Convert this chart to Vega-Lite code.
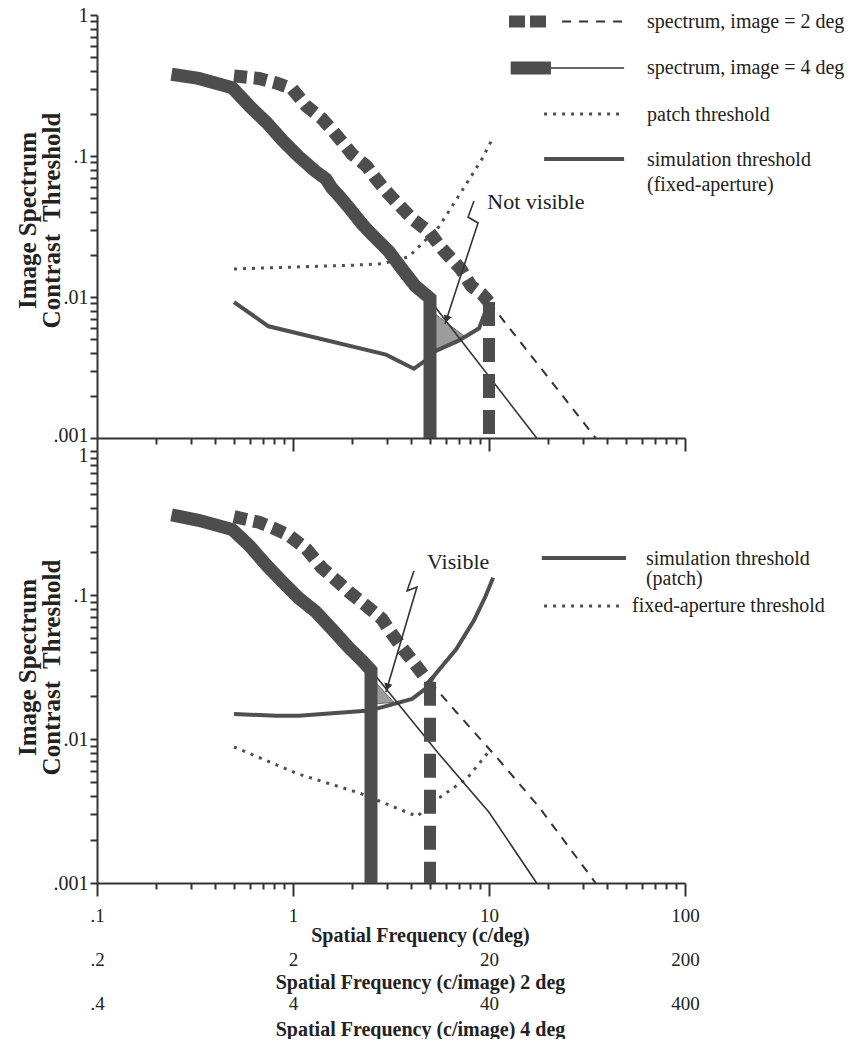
{
"$schema": "https://vega.github.io/schema/vega-lite/v6.json",
"background": "white",
"padding": {"left": 15, "top": -3, "right": 2, "bottom": 0},
"autosize": {"type": "pad"},
"config": {"view": {"stroke": null}, "axis": {"grid": false}, "font": "Liberation Serif"},
"datasets": {"rows": [
{"p":"a","s":"T4","g":"c","i":1,"x":0.24,"y":0.38},
{"p":"a","s":"T4","g":"c","i":2,"x":0.33,"y":0.355},
{"p":"a","s":"T4","g":"c","i":3,"x":0.49,"y":0.305},
{"p":"a","s":"T4","g":"c","i":4,"x":0.6,"y":0.226},
{"p":"a","s":"T4","g":"c","i":5,"x":0.735,"y":0.172},
{"p":"a","s":"T4","g":"c","i":6,"x":0.88,"y":0.13},
{"p":"a","s":"T4","g":"c","i":7,"x":1.07,"y":0.099},
{"p":"a","s":"T4","g":"c","i":8,"x":1.3,"y":0.078},
{"p":"a","s":"T4","g":"c","i":9,"x":1.47,"y":0.069},
{"p":"a","s":"T4","g":"c","i":10,"x":1.58,"y":0.059},
{"p":"a","s":"T4","g":"c","i":11,"x":1.72,"y":0.052},
{"p":"a","s":"T4","g":"c","i":12,"x":1.93,"y":0.043},
{"p":"a","s":"T4","g":"c","i":13,"x":2.25,"y":0.033},
{"p":"a","s":"T4","g":"c","i":14,"x":2.45,"y":0.029},
{"p":"a","s":"T4","g":"c","i":15,"x":2.65,"y":0.026},
{"p":"a","s":"T4","g":"c","i":16,"x":3.09,"y":0.021},
{"p":"a","s":"T4","g":"c","i":17,"x":3.6,"y":0.0158},
{"p":"a","s":"T4","g":"c","i":18,"x":4.2,"y":0.012},
{"p":"a","s":"T4","g":"c","i":19,"x":5,"y":0.0098},
{"p":"a","s":"T4","g":"c","i":20,"x":5,"y":0.001},
{"p":"a","s":"T4","g":"L","i":1,"x":12.9,"y":0.421},
{"p":"a","s":"T4","g":"L","i":2,"x":20.7,"y":0.421},
{"p":"a","s":"t4","g":"c","i":1,"x":5,"y":0.0095},
{"p":"a","s":"t4","g":"c","i":2,"x":17.5,"y":0.001},
{"p":"a","s":"t4","g":"L","i":1,"x":20.7,"y":0.421},
{"p":"a","s":"t4","g":"L","i":2,"x":48.9,"y":0.421},
{"p":"a","s":"T2","g":"c","i":1,"x":0.5,"y":0.37},
{"p":"a","s":"T2","g":"c","i":2,"x":0.67,"y":0.355},
{"p":"a","s":"T2","g":"c","i":3,"x":0.82,"y":0.33},
{"p":"a","s":"T2","g":"c","i":4,"x":0.99,"y":0.3},
{"p":"a","s":"T2","g":"c","i":5,"x":1.17,"y":0.226},
{"p":"a","s":"T2","g":"c","i":6,"x":1.41,"y":0.183},
{"p":"a","s":"T2","g":"c","i":7,"x":1.57,"y":0.155},
{"p":"a","s":"T2","g":"c","i":8,"x":1.78,"y":0.126},
{"p":"a","s":"T2","g":"c","i":9,"x":2.0,"y":0.103},
{"p":"a","s":"T2","g":"c","i":10,"x":2.37,"y":0.085},
{"p":"a","s":"T2","g":"c","i":11,"x":2.65,"y":0.069},
{"p":"a","s":"T2","g":"c","i":12,"x":3.0,"y":0.056},
{"p":"a","s":"T2","g":"c","i":13,"x":3.37,"y":0.047},
{"p":"a","s":"T2","g":"c","i":14,"x":4.05,"y":0.036},
{"p":"a","s":"T2","g":"c","i":15,"x":4.94,"y":0.029},
{"p":"a","s":"T2","g":"c","i":16,"x":5.76,"y":0.022},
{"p":"a","s":"T2","g":"c","i":17,"x":7.2,"y":0.0157},
{"p":"a","s":"T2","g":"c","i":18,"x":8.1,"y":0.012},
{"p":"a","s":"T2","g":"c","i":19,"x":9.2,"y":0.0105},
{"p":"a","s":"T2","g":"c","i":20,"x":10,"y":0.0092},
{"p":"a","s":"LT2","g":"L","i":1,"x":12.65,"y":0.899},
{"p":"a","s":"LT2","g":"L","i":2,"x":19.8,"y":0.899},
{"p":"a","s":"B2","g":"c","i":1,"x":10,"y":0.0092},
{"p":"a","s":"B2","g":"c","i":2,"x":10,"y":0.001},
{"p":"a","s":"t2","g":"c","i":1,"x":10,"y":0.0092},
{"p":"a","s":"t2","g":"c","i":2,"x":20,"y":0.0027},
{"p":"a","s":"t2","g":"c","i":3,"x":35,"y":0.001},
{"p":"a","s":"t2","g":"L","i":1,"x":23.6,"y":0.899},
{"p":"a","s":"t2","g":"L","i":2,"x":47.7,"y":0.899},
{"p":"a","s":"sol","g":"c","i":1,"x":0.5,"y":0.0092},
{"p":"a","s":"sol","g":"c","i":2,"x":0.75,"y":0.0062},
{"p":"a","s":"sol","g":"c","i":3,"x":2.98,"y":0.0039},
{"p":"a","s":"sol","g":"c","i":4,"x":4.14,"y":0.0031},
{"p":"a","s":"sol","g":"c","i":5,"x":5.1,"y":0.0038},
{"p":"a","s":"sol","g":"c","i":6,"x":5.25,"y":0.0041},
{"p":"a","s":"sol","g":"c","i":7,"x":7.0,"y":0.0049},
{"p":"a","s":"sol","g":"c","i":8,"x":8.9,"y":0.006},
{"p":"a","s":"sol","g":"c","i":9,"x":10,"y":0.0092},
{"p":"a","s":"sol","g":"L","i":1,"x":19.1,"y":0.0952},
{"p":"a","s":"sol","g":"L","i":2,"x":48.9,"y":0.0952},
{"p":"a","s":"dot","g":"c","i":1,"x":0.5,"y":0.0158},
{"p":"a","s":"dot","g":"c","i":2,"x":1.0,"y":0.0163},
{"p":"a","s":"dot","g":"c","i":3,"x":2.0,"y":0.0168},
{"p":"a","s":"dot","g":"c","i":4,"x":2.85,"y":0.0172},
{"p":"a","s":"dot","g":"c","i":5,"x":3.9,"y":0.0193},
{"p":"a","s":"dot","g":"c","i":6,"x":5.55,"y":0.0315},
{"p":"a","s":"dot","g":"c","i":7,"x":7.0,"y":0.052},
{"p":"a","s":"dot","g":"c","i":8,"x":9.2,"y":0.095},
{"p":"a","s":"dot","g":"c","i":9,"x":10.4,"y":0.132},
{"p":"a","s":"dot","g":"L","i":1,"x":19.1,"y":0.1986},
{"p":"a","s":"dot","g":"L","i":2,"x":47.7,"y":0.1986},
{"p":"a","s":"sh","g":"c","i":1,"x":5.3,"y":0.0076,"y2":0.0041},
{"p":"a","s":"sh","g":"c","i":2,"x":7.45,"y":0.0053,"y2":0.0053},
{"p":"a","s":"zz","g":"c","i":1,"x":8.38,"y":0.048},
{"p":"a","s":"zz","g":"c","i":2,"x":7.82,"y":0.0369},
{"p":"a","s":"zz","g":"c","i":3,"x":8.79,"y":0.0335},
{"p":"a","s":"zz","g":"c","i":4,"x":5.96,"y":0.00644},
{"p":"a","s":"head","g":"c","i":1,"x":6.08,"y":0.00696},
{"p":"a","s":"at","g":"c","i":1,"x":9.8,"y":0.047,"t":"Not visible"},
{"p":"a","s":"lt","g":"c","i":1,"x":64,"y":0.899,"t":"spectrum, image = 2 deg"},
{"p":"a","s":"lt","g":"c","i":2,"x":64,"y":0.421,"t":"spectrum, image = 4 deg"},
{"p":"a","s":"lt","g":"c","i":3,"x":64,"y":0.195,"t":"patch threshold"},
{"p":"a","s":"lt","g":"c","i":4,"x":64,"y":0.094,"t":"simulation threshold"},
{"p":"a","s":"lt","g":"c","i":5,"x":64,"y":0.0623,"t":"(fixed-aperture)"},
{"p":"b","s":"T4","g":"c","i":1,"x":0.24,"y":0.36},
{"p":"b","s":"T4","g":"c","i":2,"x":0.33,"y":0.33},
{"p":"b","s":"T4","g":"c","i":3,"x":0.49,"y":0.285},
{"p":"b","s":"T4","g":"c","i":4,"x":0.6,"y":0.22},
{"p":"b","s":"T4","g":"c","i":5,"x":0.735,"y":0.16},
{"p":"b","s":"T4","g":"c","i":6,"x":0.88,"y":0.124},
{"p":"b","s":"T4","g":"c","i":7,"x":1.07,"y":0.095},
{"p":"b","s":"T4","g":"c","i":8,"x":1.3,"y":0.077},
{"p":"b","s":"T4","g":"c","i":9,"x":1.58,"y":0.058},
{"p":"b","s":"T4","g":"c","i":10,"x":1.93,"y":0.043},
{"p":"b","s":"T4","g":"c","i":11,"x":2.25,"y":0.035},
{"p":"b","s":"T4","g":"c","i":12,"x":2.5,"y":0.03},
{"p":"b","s":"T4","g":"c","i":13,"x":2.5,"y":0.001},
{"p":"b","s":"t4","g":"c","i":1,"x":2.5,"y":0.03},
{"p":"b","s":"t4","g":"c","i":2,"x":5.5,"y":0.008},
{"p":"b","s":"t4","g":"c","i":3,"x":10,"y":0.0031},
{"p":"b","s":"t4","g":"c","i":4,"x":17.5,"y":0.001},
{"p":"b","s":"T2","g":"c","i":1,"x":0.5,"y":0.35},
{"p":"b","s":"T2","g":"c","i":2,"x":0.67,"y":0.32},
{"p":"b","s":"T2","g":"c","i":3,"x":0.8,"y":0.29},
{"p":"b","s":"T2","g":"c","i":4,"x":0.95,"y":0.26},
{"p":"b","s":"T2","g":"c","i":5,"x":1.17,"y":0.209},
{"p":"b","s":"T2","g":"c","i":6,"x":1.4,"y":0.155},
{"p":"b","s":"T2","g":"c","i":7,"x":1.7,"y":0.123},
{"p":"b","s":"T2","g":"c","i":8,"x":1.93,"y":0.105},
{"p":"b","s":"T2","g":"c","i":9,"x":2.37,"y":0.084},
{"p":"b","s":"T2","g":"c","i":10,"x":2.85,"y":0.068},
{"p":"b","s":"T2","g":"c","i":11,"x":3.1,"y":0.057},
{"p":"b","s":"T2","g":"c","i":12,"x":3.6,"y":0.043},
{"p":"b","s":"T2","g":"c","i":13,"x":4.2,"y":0.033},
{"p":"b","s":"T2","g":"c","i":14,"x":4.7,"y":0.027},
{"p":"b","s":"T2","g":"c","i":15,"x":5,"y":0.025},
{"p":"b","s":"B2","g":"c","i":1,"x":5,"y":0.025},
{"p":"b","s":"B2","g":"c","i":2,"x":5,"y":0.001},
{"p":"b","s":"t2","g":"c","i":1,"x":5,"y":0.025},
{"p":"b","s":"t2","g":"c","i":2,"x":6.8,"y":0.0154},
{"p":"b","s":"t2","g":"c","i":3,"x":11.2,"y":0.0072},
{"p":"b","s":"t2","g":"c","i":4,"x":17.9,"y":0.0034},
{"p":"b","s":"t2","g":"c","i":5,"x":35,"y":0.001},
{"p":"b","s":"sol","g":"c","i":1,"x":0.5,"y":0.0149},
{"p":"b","s":"sol","g":"c","i":2,"x":0.82,"y":0.0145},
{"p":"b","s":"sol","g":"c","i":3,"x":1.07,"y":0.0145},
{"p":"b","s":"sol","g":"c","i":4,"x":2.36,"y":0.0157},
{"p":"b","s":"sol","g":"c","i":5,"x":2.65,"y":0.0162},
{"p":"b","s":"sol","g":"c","i":6,"x":4.05,"y":0.019},
{"p":"b","s":"sol","g":"c","i":7,"x":4.77,"y":0.0225},
{"p":"b","s":"sol","g":"c","i":8,"x":5.3,"y":0.028},
{"p":"b","s":"sol","g":"c","i":9,"x":6.8,"y":0.042},
{"p":"b","s":"sol","g":"c","i":10,"x":8.4,"y":0.067},
{"p":"b","s":"sol","g":"c","i":11,"x":9.6,"y":0.098},
{"p":"b","s":"sol","g":"c","i":12,"x":10.5,"y":0.132},
{"p":"b","s":"sol","g":"L","i":1,"x":18.6,"y":0.181},
{"p":"b","s":"sol","g":"L","i":2,"x":50,"y":0.181},
{"p":"b","s":"dot","g":"c","i":1,"x":0.5,"y":0.0088},
{"p":"b","s":"dot","g":"c","i":2,"x":1.07,"y":0.0057},
{"p":"b","s":"dot","g":"c","i":3,"x":2.2,"y":0.0042},
{"p":"b","s":"dot","g":"c","i":4,"x":4.3,"y":0.0029},
{"p":"b","s":"dot","g":"c","i":5,"x":5.56,"y":0.0039},
{"p":"b","s":"dot","g":"c","i":6,"x":7.7,"y":0.0053},
{"p":"b","s":"dot","g":"c","i":7,"x":10,"y":0.0082},
{"p":"b","s":"dot","g":"L","i":1,"x":19.1,"y":0.0839},
{"p":"b","s":"dot","g":"L","i":2,"x":46,"y":0.0839},
{"p":"b","s":"sh","g":"c","i":1,"x":2.62,"y":0.025,"y2":0.0175},
{"p":"b","s":"sh","g":"c","i":2,"x":3.27,"y":0.018,"y2":0.018},
{"p":"b","s":"zz","g":"c","i":1,"x":4.14,"y":0.147},
{"p":"b","s":"zz","g":"c","i":2,"x":3.82,"y":0.107},
{"p":"b","s":"zz","g":"c","i":3,"x":4.29,"y":0.1137},
{"p":"b","s":"zz","g":"c","i":4,"x":2.98,"y":0.0212},
{"p":"b","s":"head","g":"c","i":1,"x":3.03,"y":0.0229},
{"p":"b","s":"at","g":"c","i":1,"x":4.83,"y":0.17,"t":"Visible"},
{"p":"b","s":"lt","g":"c","i":1,"x":63.2,"y":0.178,"t":"simulation threshold"},
{"p":"b","s":"lt","g":"c","i":2,"x":63.2,"y":0.129,"t":"(patch)"},
{"p":"b","s":"lt","g":"c","i":3,"x":53.7,"y":0.0839,"t":"fixed-aperture threshold"}
]},
"spacing": 13,
"bounds": "flush",
"vconcat": [
{
 "width": 588, "height": 423,
 "data": {"name": "rows"},
 "transform": [{"filter": "datum.p == 'a'"}],
 "encoding": {
  "x": {"field": "x", "type": "quantitative", "scale": {"type": "log", "domain": [0.1, 100], "nice": false},
    "axis": {"orient": "bottom", "values": [0.1,0.2,0.3,0.4,0.5,0.6,0.7,0.8,0.9,1,2,3,4,5,6,7,8,9,10,20,30,40,50,60,70,80,90,100], "labels": false, "title": null,
     "ticks": true, "tickSize": {"condition": {"test": "datum.value == 0.1 || datum.value == 1 || datum.value == 10 || datum.value == 100", "value": 13}, "value": 6},
     "tickWidth": 2, "tickColor": "#333", "domainColor": "#333", "domainWidth": 2}},
  "y": {"field": "y", "type": "quantitative", "scale": {"type": "log", "domain": [0.001, 1], "nice": false},
    "axis": {"orient": "left", "values": [0.001,0.002,0.003,0.004,0.005,0.006,0.007,0.008,0.009,0.01,0.02,0.03,0.04,0.05,0.06,0.07,0.08,0.09,0.1,0.2,0.3,0.4,0.5,0.6,0.7,0.8,0.9,1],
     "labelExpr": "datum.value == 1 ? '1' : datum.value == 0.1 ? '.1' : datum.value == 0.01 ? '.01' : datum.value == 0.001 ? '.001' : ''",
     "ticks": true, "tickSize": {"condition": {"test": "datum.value > 0", "value": 7}, "value": 7}, "tickWidth": 2, "tickColor": "#333", "domainColor": "#333", "domainWidth": 2,
     "labelFont": "Liberation Serif", "labelFontSize": 20, "labelColor": "#222", "labelPadding": 2, "labelOverlap": false, "labelBound": false, "labelFlush": false,
     "labelOffset": {"condition": {"test": "datum.value == 0.001", "value": -3}, "value": 0},
     "title": ["Image Spectrum", "Contrast\u00a0 Threshold"], "titleFont": "Liberation Serif", "titleFontSize": 25, "titleFontWeight": "bold", "titleColor": "#222", "titleLineHeight": 24, "titleX": -70, "titleY": 205, "titleBaseline": "middle", "titleAlign": "center"}}
 },
 "layer": [
  {"transform": [{"filter": "datum.s == 'sh'"}], "mark": {"type": "area", "color": "#9c9c9c", "stroke": "#555", "strokeWidth": 0.8}, "encoding": {"y2": {"field": "y2"}}},
  {"transform": [{"filter": "datum.s == 'sol'"}], "mark": {"type": "line", "color": "#4f4f4f", "strokeWidth": 4}, "encoding": {"detail": {"field": "g"}, "order": {"field": "i"}}},
  {"transform": [{"filter": "datum.s == 'dot'"}], "mark": {"type": "line", "color": "#4f4f4f", "strokeWidth": 3, "strokeDash": [3, 6]}, "encoding": {"detail": {"field": "g"}, "order": {"field": "i"}}},
  {"transform": [{"filter": "datum.s == 't4'"}], "mark": {"type": "line", "color": "#333", "strokeWidth": 1.6}, "encoding": {"detail": {"field": "g"}, "order": {"field": "i"}}},
  {"transform": [{"filter": "datum.s == 't2'"}], "mark": {"type": "line", "color": "#333", "strokeWidth": 2, "strokeDash": [9, 8]}, "encoding": {"detail": {"field": "g"}, "order": {"field": "i"}}},
  {"transform": [{"filter": "datum.s == 'T4'"}], "mark": {"type": "line", "color": "#4d4d4d", "strokeWidth": 13, "strokeJoin": "miter", "strokeCap": "butt"}, "encoding": {"detail": {"field": "g"}, "order": {"field": "i"}}},
  {"transform": [{"filter": "datum.s == 'T2'"}], "mark": {"type": "line", "color": "#4d4d4d", "strokeWidth": 13, "strokeDash": [13, 7]}, "encoding": {"detail": {"field": "g"}, "order": {"field": "i"}}},
  {"transform": [{"filter": "datum.s == 'LT2'"}], "mark": {"type": "line", "color": "#4d4d4d", "strokeWidth": 12, "strokeDash": [16, 5]}, "encoding": {"detail": {"field": "g"}, "order": {"field": "i"}}},
  {"transform": [{"filter": "datum.s == 'B2'"}], "mark": {"type": "line", "color": "#4d4d4d", "strokeWidth": 12, "strokeDash": [24, 12]}, "encoding": {"detail": {"field": "g"}, "order": {"field": "i"}}},
  {"transform": [{"filter": "datum.s == 'zz'"}], "mark": {"type": "line", "color": "#333", "strokeWidth": 1.6}, "encoding": {"detail": {"field": "g"}, "order": {"field": "i"}}},
  {"transform": [{"filter": "datum.s == 'head'"}], "mark": {"type": "point", "shape": "triangle-up", "filled": true, "size": 70, "angle": 198, "color": "#333", "opacity": 1}},
  {"transform": [{"filter": "datum.s == 'at'"}], "mark": {"type": "text", "align": "left", "baseline": "middle", "font": "Liberation Serif", "fontSize": 22, "color": "#222"}, "encoding": {"text": {"field": "t"}}},
  {"transform": [{"filter": "datum.s == 'lt'"}], "mark": {"type": "text", "align": "left", "baseline": "middle", "font": "Liberation Serif", "fontSize": 20, "color": "#222"}, "encoding": {"text": {"field": "t"}}}
 ]
},
{
 "width": 588, "height": 432,
 "data": {"name": "rows"},
 "transform": [{"filter": "datum.p == 'b'"}],
 "encoding": {
  "x": {"field": "x", "type": "quantitative", "scale": {"type": "log", "domain": [0.1, 100], "nice": false},
    "axis": {"orient": "bottom", "values": [0.1,0.2,0.3,0.4,0.5,0.6,0.7,0.8,0.9,1,2,3,4,5,6,7,8,9,10,20,30,40,50,60,70,80,90,100],
     "ticks": true, "tickSize": {"condition": {"test": "datum.value == 0.1 || datum.value == 1 || datum.value == 10 || datum.value == 100", "value": 13}, "value": 6},
     "tickWidth": 2, "tickColor": "#333", "domainColor": "#333", "domainWidth": 2,
     "labelExpr": "datum.value == 0.1 ? ['.1', '.2', '.4'] : datum.value == 1 ? ['1', '2', '4'] : datum.value == 10 ? ['10', '20', '40'] : datum.value == 100 ? ['100', '200', '400'] : ''",
     "labelFont": "Liberation Serif", "labelFontSize": 19, "labelColor": "#222", "labelBaseline": "middle", "labelLineHeight": 44, "labelPadding": 19, "labelOverlap": false, "labelBound": false, "labelFlush": false,
     "title": ["Spatial Frequency (c/deg)", "Spatial Frequency (c/image) 2 deg", "Spatial Frequency (c/image) 4 deg"],
     "titleFont": "Liberation Serif", "titleFontSize": 20, "titleFontWeight": "bold", "titleColor": "#222", "titleLineHeight": 47, "titleX": 323, "titleY": 52, "titleBaseline": "middle", "titleAlign": "center"}},
  "y": {"field": "y", "type": "quantitative", "scale": {"type": "log", "domain": [0.001, 1], "nice": false},
    "axis": {"orient": "left", "values": [0.001,0.002,0.003,0.004,0.005,0.006,0.007,0.008,0.009,0.01,0.02,0.03,0.04,0.05,0.06,0.07,0.08,0.09,0.1,0.2,0.3,0.4,0.5,0.6,0.7,0.8,0.9,1],
     "labelExpr": "datum.value == 1 ? '1' : datum.value == 0.1 ? '.1' : datum.value == 0.01 ? '.01' : datum.value == 0.001 ? '.001' : ''",
     "ticks": true, "tickSize": {"condition": {"test": "datum.value > 0", "value": 7}, "value": 7}, "tickWidth": 2, "tickColor": "#333", "domainColor": "#333", "domainWidth": 2,
     "labelFont": "Liberation Serif", "labelFontSize": 20, "labelColor": "#222", "labelPadding": 2, "labelOverlap": false, "labelBound": false, "labelFlush": false,
     "labelOffset": {"condition": {"test": "datum.value == 1", "value": 4}, "value": 0},
     "title": ["Image Spectrum", "Contrast\u00a0 Threshold"], "titleFont": "Liberation Serif", "titleFontSize": 25, "titleFontWeight": "bold", "titleColor": "#222", "titleLineHeight": 24, "titleX": -70, "titleY": 216, "titleBaseline": "middle", "titleAlign": "center"}}
 },
 "layer": [
  {"transform": [{"filter": "datum.s == 'sh'"}], "mark": {"type": "area", "color": "#9c9c9c", "stroke": "#555", "strokeWidth": 0.8}, "encoding": {"y2": {"field": "y2"}}},
  {"transform": [{"filter": "datum.s == 'sol'"}], "mark": {"type": "line", "color": "#4f4f4f", "strokeWidth": 4}, "encoding": {"detail": {"field": "g"}, "order": {"field": "i"}}},
  {"transform": [{"filter": "datum.s == 'dot'"}], "mark": {"type": "line", "color": "#4f4f4f", "strokeWidth": 3, "strokeDash": [3, 6]}, "encoding": {"detail": {"field": "g"}, "order": {"field": "i"}}},
  {"transform": [{"filter": "datum.s == 't4'"}], "mark": {"type": "line", "color": "#333", "strokeWidth": 1.6}, "encoding": {"detail": {"field": "g"}, "order": {"field": "i"}}},
  {"transform": [{"filter": "datum.s == 't2'"}], "mark": {"type": "line", "color": "#333", "strokeWidth": 2, "strokeDash": [9, 8]}, "encoding": {"detail": {"field": "g"}, "order": {"field": "i"}}},
  {"transform": [{"filter": "datum.s == 'T4'"}], "mark": {"type": "line", "color": "#4d4d4d", "strokeWidth": 13, "strokeJoin": "miter", "strokeCap": "butt"}, "encoding": {"detail": {"field": "g"}, "order": {"field": "i"}}},
  {"transform": [{"filter": "datum.s == 'T2'"}], "mark": {"type": "line", "color": "#4d4d4d", "strokeWidth": 13, "strokeDash": [13, 7]}, "encoding": {"detail": {"field": "g"}, "order": {"field": "i"}}},
  {"transform": [{"filter": "datum.s == 'B2'"}], "mark": {"type": "line", "color": "#4d4d4d", "strokeWidth": 12, "strokeDash": [24, 12]}, "encoding": {"detail": {"field": "g"}, "order": {"field": "i"}}},
  {"transform": [{"filter": "datum.s == 'zz'"}], "mark": {"type": "line", "color": "#333", "strokeWidth": 1.6}, "encoding": {"detail": {"field": "g"}, "order": {"field": "i"}}},
  {"transform": [{"filter": "datum.s == 'head'"}], "mark": {"type": "point", "shape": "triangle-up", "filled": true, "size": 70, "angle": 196, "color": "#333", "opacity": 1}},
  {"transform": [{"filter": "datum.s == 'at'"}], "mark": {"type": "text", "align": "left", "baseline": "middle", "font": "Liberation Serif", "fontSize": 22, "color": "#222"}, "encoding": {"text": {"field": "t"}}},
  {"transform": [{"filter": "datum.s == 'lt'"}], "mark": {"type": "text", "align": "left", "baseline": "middle", "font": "Liberation Serif", "fontSize": 20, "color": "#222"}, "encoding": {"text": {"field": "t"}}}
 ]
}
]
}
